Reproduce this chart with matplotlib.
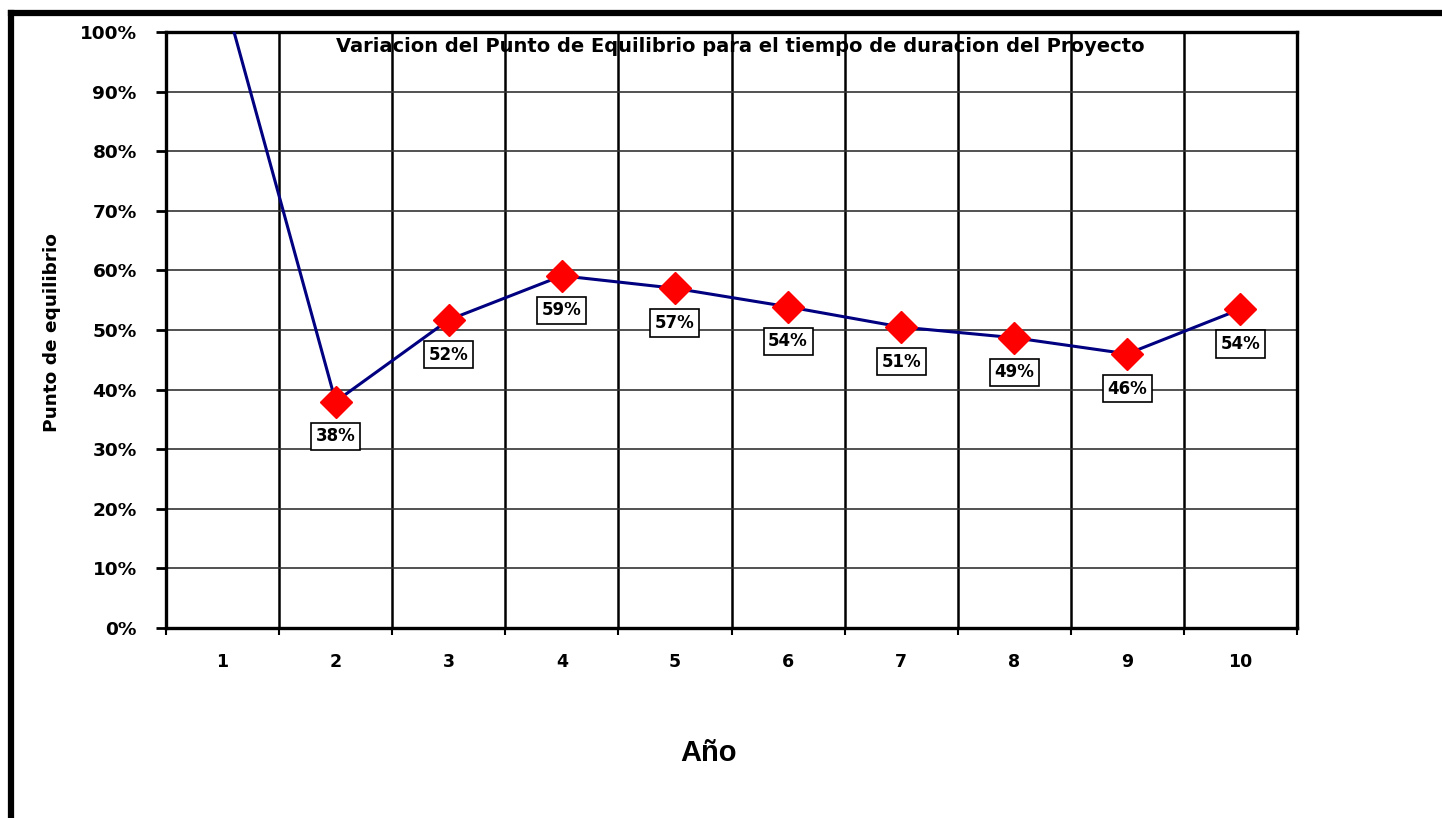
import matplotlib
matplotlib.use('Agg')
import matplotlib.pyplot as plt
from matplotlib.lines import Line2D
from matplotlib.ticker import FixedLocator

# ---- data ----
years = [1, 2, 3, 4, 5, 6, 7, 8, 9, 10]
punto = [1.07, 0.38, 0.517, 0.591, 0.570, 0.539, 0.505, 0.487, 0.460, 0.535]
point_labels = ['107%', '38%', '52%', '59%', '57%', '54%', '51%', '49%', '46%', '54%']
y_ticks = [0.0, 0.1, 0.2, 0.3, 0.4, 0.5, 0.6, 0.7, 0.8, 0.9, 1.0]
y_tick_labels = ['0%', '10%', '20%', '30%', '40%', '50%', '60%', '70%', '80%', '90%', '100%']
title = 'Variacion del Punto de Equilibrio para el tiempo de duracion del Proyecto'
xlabel = 'Año'
ylabel = 'Punto de equilibrio'

plt.rcParams['font.family'] = ['DejaVu Sans']
plt.rcParams['font.weight'] = 'bold'

W, H = 1442, 818
fig = plt.figure(figsize=(W / 100, H / 100), dpi=100)
fig.patch.set_facecolor('white')
ax = fig.add_axes([166 / W, 1 - 628 / H, (1297 - 166) / W, (628 - 32) / H])

ax.set_xlim(0.5, 10.5)
ax.set_ylim(0, 1)

# gridlines
for b in [i + 0.5 for i in years[:-1]]:
    ax.axvline(b, color='black', lw=1.8, zorder=1)
for yv in y_ticks[1:-1]:
    ax.axhline(yv, color='#333333', lw=1.2, zorder=1)

ax.plot(years, punto, color='#000080', lw=2.2, marker='D', ms=16,
        mfc='#ff0000', mec='#ff0000', zorder=5)

for x, v, lab in zip(years, punto, point_labels):
    if v > 1.0:
        continue
    ax.annotate(lab, (x, v), xytext=(0, -25), textcoords='offset points',
                ha='center', va='center', fontsize=12, fontweight='bold',
                color='black', zorder=6,
                bbox=dict(boxstyle='square,pad=0.28', fc='white', ec='black', lw=1.2))

# ticks
ax.set_xticks(years)
ax.set_xticklabels([str(y) for y in years], fontsize=12.5, fontweight='bold')
ax.xaxis.set_minor_locator(FixedLocator([i - 0.5 for i in years] + [10.5]))
ax.tick_params(axis='x', which='major', length=0, pad=18)
ax.tick_params(axis='x', which='minor', length=5, width=1.5, direction='out')
ax.set_yticks(y_ticks)
ax.set_yticklabels(y_tick_labels, fontsize=13.3, fontweight='bold')
ax.tick_params(axis='y', which='major', length=7, width=2, direction='out', pad=14)

for s in ax.spines.values():
    s.set_linewidth(2.4)
    s.set_color('black')

ax.text(0.5075, 0.976, title, transform=ax.transAxes, ha='center', va='center',
        fontsize=14, fontweight='bold', zorder=7)

fig.text(52 / W, 1 - 333 / H, ylabel, rotation=90, ha='center', va='center',
         fontsize=13.3, fontweight='bold')
fig.text(709 / W, 1 - 753 / H, xlabel, ha='center', va='center',
         fontsize=21, fontweight='bold', family=['Liberation Sans', 'DejaVu Sans'])

# outer frame (left and top)
fig.add_artist(Line2D([11 / W, 11 / W], [0, 1 - 13 / H], transform=fig.transFigure,
                      color='black', lw=4.5, solid_capstyle='projecting'))
fig.add_artist(Line2D([11 / W, 1], [1 - 13 / H, 1 - 13 / H], transform=fig.transFigure,
                      color='black', lw=4.5, solid_capstyle='projecting'))

fig.savefig('out.png', dpi=100)
